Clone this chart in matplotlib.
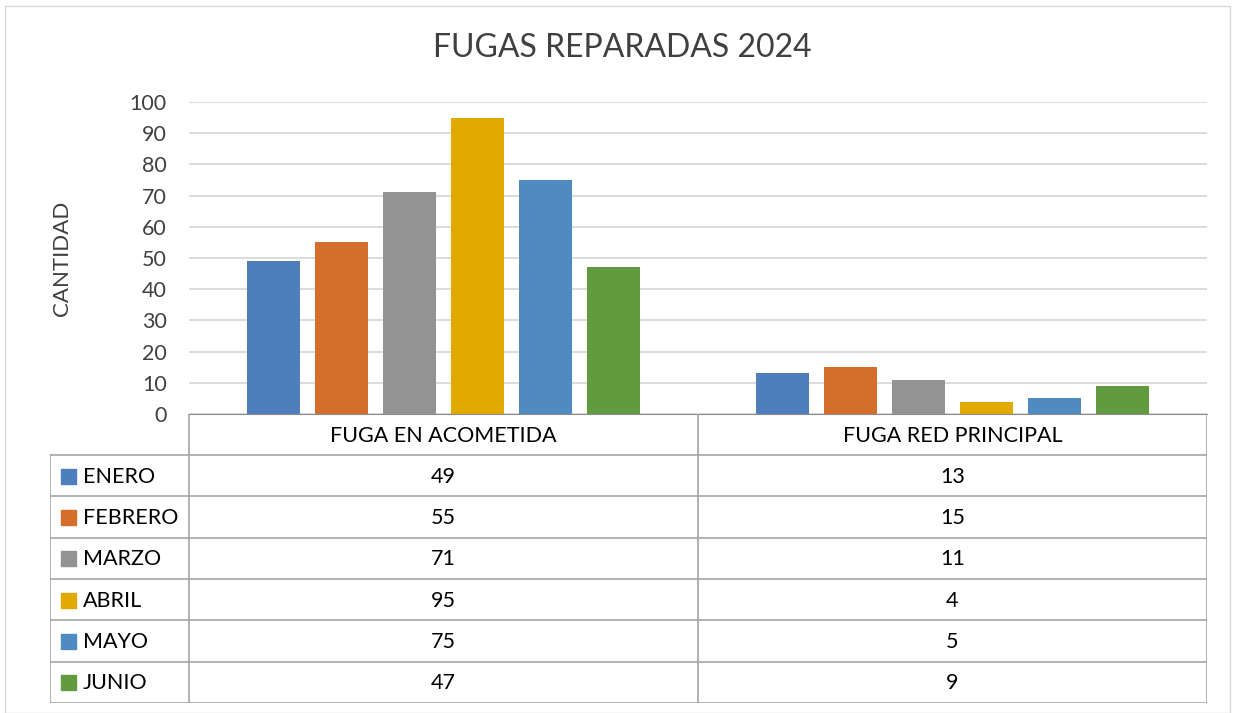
import matplotlib.pyplot as plt
from matplotlib.patches import Rectangle

plt.rcParams['font.family'] = ['Lato', 'DejaVu Sans']

categories = ['FUGA EN ACOMETIDA', 'FUGA RED PRINCIPAL']
months = ['ENERO', 'FEBRERO', 'MARZO', 'ABRIL', 'MAYO', 'JUNIO']
values = {
    'ENERO': [49, 13],
    'FEBRERO': [55, 15],
    'MARZO': [71, 11],
    'ABRIL': [95, 4],
    'MAYO': [75, 5],
    'JUNIO': [47, 9],
}
colors = ['#4E7FBC', '#D46E2D', '#939393', '#E2AA00', '#4F8BC0', '#629B3F']

W, H = 1233, 713
fig = plt.figure(figsize=(W / 100, H / 100), dpi=100)

# frame around the whole chart
fig.patches.append(Rectangle((5 / W, 0), (W - 8) / W, (H - 6) / H, transform=fig.transFigure,
                             fill=False, edgecolor='#D9D9D9', linewidth=1))

# ---- bars ----
x0, x1, y_top, y_bot = 189, 1207, 102, 414
ax = fig.add_axes([x0 / W, 1 - y_bot / H, (x1 - x0) / W, (y_bot - y_top) / H])
pitch = 0.1336
width = 0.104
for j, m in enumerate(months):
    xs = [i + 0.5 + (j - 2.5) * pitch for i in range(len(categories))]
    ax.bar(xs, values[m], width=width, color=colors[j], zorder=3)
ax.set_xlim(0, len(categories))
ax.set_ylim(0, 100)
ax.set_yticks(range(0, 101, 10))
ax.yaxis.grid(True, color='#D9D9D9', linewidth=1.3, zorder=0)
ax.set_xticks([])
for s in ['top', 'right', 'left']:
    ax.spines[s].set_visible(False)
ax.spines['bottom'].set_color('#8C8C8C')
ax.tick_params(axis='y', length=0, labelsize=15.5, labelcolor='#404040', pad=16)
ax.set_ylabel('CANTIDAD', fontsize=16, color='#404040')
ax.yaxis.set_label_coords(-0.115, 0.5)
fig.text(622 / W, 1 - 48 / H, 'FUGAS REPARADAS 2024',
         ha='center', va='center', fontsize=23, color='#404040')

# ---- data table ----
tx0, ty0, ty1 = 50, 414, 703
tab = fig.add_axes([tx0 / W, 1 - ty1 / H, (x1 - tx0) / W, (ty1 - ty0) / H])
tab.set_xlim(tx0, x1)
tab.set_ylim(ty1, ty0)
tab.axis('off')
head_h = 41
row_h = (ty1 - ty0 - head_h) / len(months)
col_w = (x1 - x0) / len(categories)
lc = '#A6A6A6'
fs = 15.5
# header
for i, c in enumerate(categories):
    tab.text(x0 + col_w * (i + 0.5), ty0 + head_h / 2 + 1, c, ha='center', va='center',
             fontsize=fs, color='black')
for i in range(len(categories) + 1):
    tab.plot([x0 + col_w * i] * 2, [ty0, ty1], color=lc, lw=1.2)
tab.plot([tx0, tx0], [ty0 + head_h, ty1], color=lc, lw=1.2)
for r in range(len(months) + 1):
    y = ty0 + head_h + r * row_h
    tab.plot([tx0, x1], [y, y], color=lc, lw=1.2)
for r, m in enumerate(months):
    yc = ty0 + head_h + (r + 0.5) * row_h
    tab.add_patch(Rectangle((61, yc - 7), 15, 15, color=colors[r]))
    tab.text(83, yc + 1, m, ha='left', va='center', fontsize=fs, color='black')
    for i in range(len(categories)):
        tab.text(x0 + col_w * (i + 0.5), yc + 1, str(values[m][i]), ha='center', va='center',
                 fontsize=fs, color='black')

fig.savefig('out.png', dpi=100)
